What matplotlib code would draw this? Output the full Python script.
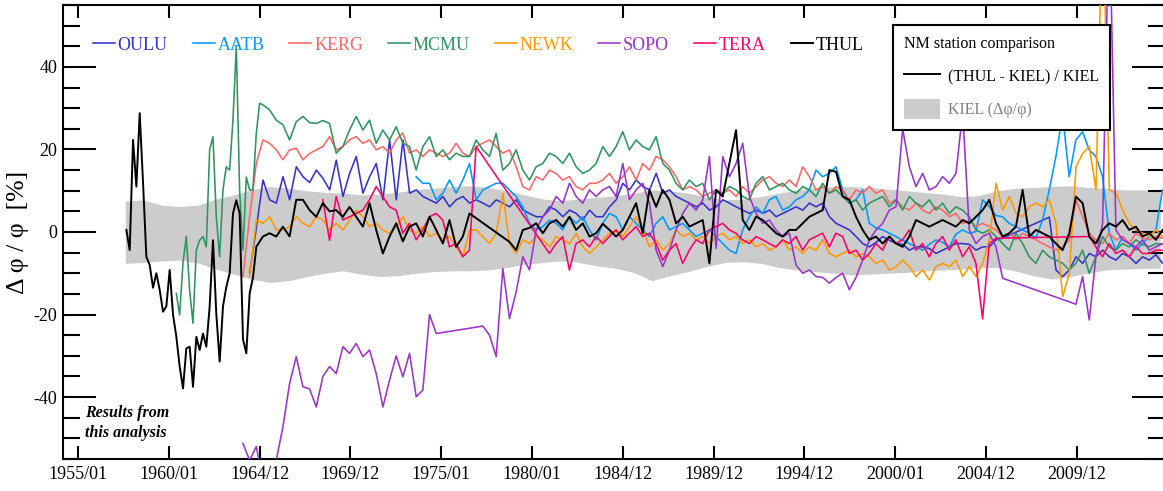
import numpy as np
import matplotlib
matplotlib.use("Agg")
import matplotlib.pyplot as plt
from matplotlib.lines import Line2D
from matplotlib.patches import Patch
from matplotlib.ticker import FixedLocator, MultipleLocator

plt.rcParams['font.family'] = ['Liberation Serif', 'DejaVu Serif']
plt.rcParams['axes.unicode_minus'] = False

nan = np.nan

# ---------------- axis data ----------------
xtick_years = [1955, 1960, 1965, 1970, 1975, 1980, 1985, 1990, 1995, 2000, 2005, 2010]
xtick_labels = ['1955/01', '1960/01', '1964/12', '1969/12', '1975/01', '1980/01',
                '1984/12', '1989/12', '1994/12', '2000/01', '2004/12', '2009/12']
ytick_values = [-40, -20, 0, 20, 40]

step_coarse = 0.367    # years between samples
step_fine = 0.1835

# ---------------- KIEL band (yearly) ----------------
kiel_start = 1957.6
kiel_step = 1.0
kiel_upper = [7.5, 7.8, 6.5, 6.2, 6.5, 8.0, 9.0, 10.3, 11.0, 10.6,
              10.0, 9.6, 9.4, 9.0, 9.2, 9.6, 10.3, 10.6, 11.0, 11.2,
              10.8, 10.0, 9.0, 8.0, 7.6, 8.0, 8.4, 8.8, 9.4, 10.2,
              10.0, 9.4, 8.5, 7.8, 8.0, 8.6, 9.4, 10.2, 10.8, 11.0,
              11.0, 10.8, 10.4, 10.0, 9.6, 9.2, 8.6, 8.8, 10.0, 10.6,
              10.8, 11.0, 11.2, 10.8, 10.6, 10.2, 10.2, 10.0]
kiel_lower = [-7.6, -7.4, -7.0, -6.8, -7.5, -9.0, -10.2, -11.5, -12.2, -11.8,
              -10.8, -10.0, -9.4, -10.2, -10.8, -10.6, -10.0, -9.6, -9.4, -9.4,
              -9.2, -8.6, -7.8, -7.4, -7.0, -7.4, -8.2, -8.8, -9.8, -11.8,
              -10.6, -9.6, -8.4, -7.4, -7.2, -7.6, -8.6, -9.2, -9.6, -10.0,
              -10.4, -10.2, -10.0, -9.8, -9.4, -9.2, -9.0, -8.6, -8.6, -9.4,
              -10.6, -11.4, -10.8, -10.0, -9.2, -9.0, -8.8, -8.8]

# ---------------- THUL ----------------
thul_fine_start = 1957.66
thul_fine = [0.5, -4.4, 22.3, 11.0, 28.8, 12.0, -6.0, -8.0, -13.5, -10.0,
             -14.0, -19.3, -18.0, -9.2, -20.0, -25.4, -32.6, -37.9, -28.2, -27.8,
             -37.5, -25.4, -28.6, -24.6, -27.8, -18.0, -2.0, -20.0, -31.4, -18.0,
             -13.3, -10.0, 4.5, 7.7, 4.5, -26.0, -29.4, -14.9, -11.0, -3.6]
thul_start = 1965.18
thul = [-1.1, -0.3, -1.1, 1.3, -1.1, 7.8, 7.8, 5.3, 3.7, 7.0,
        5.0, 5.3, 3.7, 6.1, 3.7, 1.3, 7.0, 0.5, -5.2, -1.1,
        2.1, -2.3, 1.3, 2.1, -1.1, 3.7, 0.5, -2.8, 2.9, -3.6,
        -1.1, 4.5, nan, nan, nan, nan, nan, -2.4, -4.4, 0.5,
        1.0, 2.1, -0.3, 2.1, 2.9, 1.3, 3.7, 0.5, 2.1, -1.1,
        -0.3, 2.0, 0.5, -1.1, 0.5, 3.7, 7.0, -0.3, 10.2, 6.1,
        10.2, 7.8, 2.1, 3.7, 1.3, 2.1, 2.9, -7.6, 10.2, 8.6,
        16.6, 24.7, 2.9, 0.5, 3.7, 2.9, 1.3, -0.3, -1.1, 0.5,
        0.5, 2.1, 3.7, 4.5, 5.3, 15.0, 14.6, 8.6, 7.8, 3.7,
        0.5, -1.9, -1.1, -2.8, -1.1, -2.8, -3.6, -1.1, 2.9, 2.1,
        1.3, 2.1, 2.9, 2.1, 1.3, 2.9, 2.1, 3.7, 5.3, 7.8,
        2.1, -1.1, -0.3, 1.3, 10.2, -1.1, 0.5, -0.3, -1.1, -2.8,
        -4.4, -0.3, 8.6, 7.0, -1.1, -2.8, 0.5, 2.1, 1.3, 2.9,
        0.5, 1.3, -1.1, -0.3, -1.9, 0.5]

# ---------------- MCMU ----------------
mcmu_fine_start = 1960.41
mcmu_fine = [-14.9, -20.1, -7.6, -1.1, -14.1, -22.1, -4.4, -2.0, -1.1, -3.6,
             19.9, 23.1, 3.7, -6.0, 10.2, 15.8, 15.0, 27.1, 45.0, 10.2,
             -4.4, 13.3, 10.2, 10.2, 23.9, 31.2]
mcmu_start = 1965.18
mcmu = [30.8, 29.6, 27.1, 26.0, 22.3, 26.7, 28.0, 26.5, 26.3, 27.0,
        26.3, 19.1, 20.7, 24.7, 28.0, 24.7, 27.1, 21.5, 24.7, 22.3,
        25.5, 21.5, 20.7, 15.0, 20.7, 23.1, 18.3, 19.9, 17.5, 19.1,
        18.3, 18.3, 22.3, 19.9, 18.3, 23.9, 15.0, 16.6, 19.9, 15.0,
        12.6, 15.8, 16.6, 19.1, 18.3, 16.6, 19.1, 15.8, 14.2, 15.0,
        16.6, 20.7, 18.3, 20.7, 24.3, 19.9, 22.3, 20.7, 19.9, 23.1,
        16.6, 15.0, 11.8, 10.2, 12.6, 11.0, 11.8, 7.8, 10.2, 9.4,
        11.0, 10.2, 8.6, 7.8, 11.8, 13.4, 10.2, 11.0, 11.8, 10.2,
        9.4, 11.0, 10.2, 8.6, 11.8, 9.4, 10.2, 8.6, 7.0, 7.8,
        5.3, 7.0, 7.8, 8.6, 6.1, 7.8, 5.3, 8.6, 7.0, 6.1,
        7.8, 5.3, 7.0, 4.5, 6.1, 5.3, 3.7, 0.5, -0.3, 0.5,
        -1.1, -2.8, -4.4, -0.3, -2.8, -6.0, -7.6, -4.4, -6.0, -6.8,
        -7.6, -9.2, -7.6, -4.4, -10.0, -6.0, -1.1, -3.6, -4.4, -2.8,
        -3.6, -1.9, -3.0, -3.6, -2.8, -3.0]

# ---------------- KERG ----------------
kerg_start = 1964.08
kerg = [-10.8, 3.7, 16.6,
        22.3, 21.5, 19.9, 17.5, 19.9, 20.3, 17.5, 19.0, 19.9, 20.7,
        23.1, 19.9, 20.7, 22.3, 23.1, 21.5, 22.3, 19.9, 20.7, 19.1,
        22.3, 24.0, 19.1, 19.9, 18.3, 19.9, 19.1, 18.3, 19.1, 21.5,
        19.1, 18.3, 20.7, 21.5, 22.3, 20.7, 19.1, 19.9, 15.8, 11.0,
        10.2, 13.4, 12.6, 15.0, 14.2, 12.6, 13.4, 11.0, 10.2, 11.8,
        11.8, 12.6, 14.2, 11.8, 13.4, 15.8, 12.6, 16.6, 15.0, 18.3,
        17.5, 15.8, 13.4, 10.2, 11.0, 10.2, 8.6, 9.4, 10.2, 9.4,
        10.2, 8.6, 11.0, 9.4, 11.0, 12.6, 13.4, 11.8, 11.0, 12.6,
        11.0, 15.8, 13.4, 10.2, 11.0, 9.4, 11.0, 10.2, 7.8, 10.2,
        9.4, 11.0, 9.4, 10.2, 7.0, 7.8, 6.1, 5.3, 7.0, 5.3,
        4.5, 6.1, 5.3, 3.7, 4.5, 2.1, 2.9, 1.3, 2.1, 1.3,
        0.5, -1.1, -0.3, -1.9, -0.3, -1.1, -1.9, -2.8, -3.6, -4.4,
        -3.6, -1.9, 7.8, 3.7, -0.3, -1.9, -2.8, -0.3, -1.9, -1.1,
        -2.8, -0.3, -1.5, -1.9, -1.1, -1.5]

# ---------------- OULU ----------------
oulu_start = 1964.45
oulu = [-10.0, 1.0,
        12.6, 7.8, 7.0, 13.4, 7.8, 15.8, 13.4, 12.0, 15.0, 13.0,
        10.2, 17.4, 8.6, 14.2, 18.3, 9.4, 13.4, 16.6, 7.8, 22.3,
        7.8, 22.3, 9.4, 10.2, 8.6, 7.8, 7.0, 8.6, 6.1, 7.8,
        8.6, 7.0, 7.8, 7.0, 6.1, 7.8, 7.0, 6.1, 7.8, 5.3,
        4.5, 3.7, 3.7, 6.1, 5.3, 3.7, 5.3, 4.5, 2.9, 5.3,
        3.7, 3.7, 6.1, 7.8, 11.8, 10.2, 12.6, 11.0, 10.2, 14.2,
        9.4, 10.2, 8.6, 7.8, 7.0, 6.1, 7.0, 5.3, 6.1, 7.8,
        7.0, 6.1, 5.3, 4.5, 5.3, 4.5, 5.3, 3.7, 4.5, 5.3,
        6.1, 5.3, 7.0, 6.1, 7.0, 3.7, 2.1, 1.3, 0.5, -1.1,
        -2.8, -3.6, -2.5, -1.1, -2.0, -2.8, -3.0, -4.4, -3.6, -3.6,
        -4.0, -5.2, -4.4, -3.6, -2.8, -2.8, -3.0, -4.4, -3.6, -3.6,
        -1.9, -1.5, nan, nan, nan, nan, nan, nan, 3.6, -9.2,
        -10.8, -9.2, -6.0, -7.6, -5.2, -6.0, -4.4, -6.0, -6.8, -5.2,
        -6.0, -7.6, -6.0, -6.8, -5.5, -7.6]

# ---------------- AATB ----------------
aatb_start = 1973.62
aatb = [13.4, 11.8, 11.8, 7.8, 9.4, 12.6, 9.4,
        12.6, 16.6, 7.8, 10.2, 11.0, 11.8, 11.8, 10.2, 8.6, 6.1,
        2.1, 0.5, 1.3, 2.9, 2.1, 0.5, 3.7, 2.1, 3.7, 0.5,
        -1.9, 2.1, 4.5, 3.7, 0.5, 3.7, 2.1, 0.5, -1.1, 2.1,
        3.7, 0.5, 1.3, 2.1, 0.5, -1.1, -0.3, 0.5, -1.1, -2.8,
        -4.4, -5.2, 0.5, 3.7, 6.1, 4.5, 7.8, 8.6, 5.3, 6.1,
        7.8, 8.6, 10.2, 15.0, 13.4, 14.2, 15.8, 10.2, 7.0, 7.8,
        10.2, 2.1, 1.0, 0.5, -0.3, -1.1, -2.0, -2.8, -3.6, -4.4,
        -3.0, -1.9, -2.5, -3.6, -0.5, 0.5, -0.3, 0.1, 7.8, 6.1,
        4.0, 3.7, 2.1, 1.3, 0.5, -0.3, -1.5, 2.9, 10.2, 18.3,
        28.4, 13.4, 22.3, 24.3, 19.9, 18.3, 13.4, -0.3, -4.4, -1.1,
        -2.8, -4.4, -2.8, -1.1, 0.5, 10.2]

# ---------------- NEWK ----------------
newk_start = 1964.45
newk = [-10.8, 2.9,
        2.1, 3.7, 0.5, 0.5, 1.3, 3.7, 2.1, 1.3, 3.7, 2.9,
        0.5, 2.1, 0.5, 2.9, 5.3, 3.7, 1.3, 2.1, 0.5, -0.3,
        1.3, 3.7, 0.5, -0.3, 1.3, -1.1, -0.3, -1.9, -1.1, -3.6,
        -6.0, 0.5, 0.5, -1.1, -2.8, -0.3, 9.4, -2.8, -5.2, -1.9,
        -2.8, -1.1, -1.9, -3.6, -1.1, -1.9, -2.8, -0.3, -3.6, -5.2,
        -3.6, -1.9, -0.3, 0.5, -1.1, 1.3, 3.7, 0.5, -3.6, -1.9,
        -4.4, -2.8, 0.5, -1.1, -0.3, -1.9, -1.1, -2.8, -1.1, -0.3,
        -1.9, -1.1, -2.8, -1.9, -3.6, -2.8, -4.4, -3.6, -1.9, -4.4,
        -3.6, -5.2, -3.6, -4.4, -1.9, -5.2, -6.0, -5.2, -4.4, -6.0,
        -5.2, -6.0, -7.6, -6.8, -9.2, -8.4, -6.8, -8.4, -10.8, -9.2,
        -11.6, -8.4, -7.6, -8.4, -6.8, -10.8, -8.4, -10.8, -7.6, -1.9,
        11.8, 5.3, 8.6, 4.5, 3.7, 6.1, 7.0, 6.1, 7.8, 2.1,
        -15.7, -10.0, 15.8, 19.0, 20.7, 10.2, 80.0, 10.2, 9.4, 5.3,
        2.1, 0.5, -0.3, -1.1, 0.5, -1.1]

# ---------------- SOPO ----------------
sopo_start = 1964.08
sopo = [-51.2, -55.3, -52.0,
        -60.0, -62.0, -55.3, -47.2, -36.7, -30.2, -37.5, -38.0, -42.4, -35.0,
        -32.6, -34.3, -27.8, -29.4, -27.0, -30.2, -28.6, -34.3, -42.4, -35.9,
        -30.0, -35.1, -29.4, -39.9, -38.3, -20.0, -24.6, nan, nan, nan,
        nan, nan, nan, -22.8, -25.0, -30.2, -8.8, -21.0, -14.5, -6.0,
        -9.2, 0.5, 3.7, 5.3, 8.6, 7.0, 11.8, 8.6, 7.0, 10.2,
        8.6, 10.2, 11.0, 8.6, 16.6, 7.8, 10.2, 11.8, 7.0, -4.4,
        -8.4, -4.4, 0.5, 4.5, 7.0, 5.3, 7.8, 18.3, -4.0, 18.3,
        13.4, 16.6, 21.5, 8.6, 4.5, 2.1, 2.9, 0.5, -1.1, -0.3,
        -8.0, -10.0, -9.2, -10.8, -11.0, -12.4, -11.0, -10.0, -14.0, -11.0,
        -6.8, -1.9, 0.5, 2.1, 5.3, 6.1, 25.0, 15.8, 11.0, 14.2,
        10.2, 11.0, 13.4, 11.8, 14.2, 29.0, 0.5, -2.8, -1.1, -0.3,
        -3.6, -11.2, nan, nan, nan, nan, nan, nan, nan, nan,
        nan, nan, -17.5, -10.8, -21.3, -6.0, 2.1, 80.0, 0.5, -1.9,
        -2.8, -3.6, -1.9, -4.4, -3.6, -2.8]

# ---------------- TERA ----------------
tera_start = 1968.48
tera = [7.8,
        -2.0, 8.6, 2.9, 3.7, 4.5, 5.3, 7.8, 11.0, 8.6, 6.1,
        5.3, -0.3, 2.1, -1.9, 0.5, 3.7, 4.5, 2.9, -3.6, -2.8,
        -6.0, -4.4, 20.7, nan, nan, nan, nan, nan, nan, nan,
        nan, nan, nan, -5.2, -2.8, -1.1, -9.2, -2.8, -1.9, -3.6,
        -1.1, -2.8, -1.1, 0.5, -1.9, -0.3, 1.3, -1.1, -0.3, -2.8,
        -6.8, -4.4, -2.8, -7.6, -4.4, -1.9, -2.8, 0.5, 1.3, 2.1,
        0.5, -0.3, -1.9, -2.8, -1.1, -1.9, -2.8, -3.6, -1.9, -2.8,
        -1.1, -4.4, -1.9, -1.1, -0.3, -3.6, -0.3, -1.1, -5.2, -4.4,
        -6.8, -5.2, -2.8, -4.4, -1.1, -2.8, -1.9, 0.5, -4.4, -2.8,
        -6.0, -2.8, -1.1, -4.4, -1.9, -6.0, -3.6, -7.6, -21.0, -2.8,
        -1.5, nan, nan, nan, nan, nan, nan, nan, nan, nan,
        nan, nan, nan, nan, -1.1, -3.6, -6.0, -2.8, -5.2, -4.4,
        -6.0, -3.6, -5.2, -5.2, -4.4, -4.4]

station_names = ['OULU', 'AATB', 'KERG', 'MCMU', 'NEWK', 'SOPO', 'TERA', 'THUL']
station_colors = ['#3333cc', '#0099ff', '#ff6666', '#2e9460', '#ff9900', '#9933cc', '#ff0066', '#000000']


def series_xy(segments):
    xs, ys = [], []
    for start, step, vals in segments:
        v = np.asarray(vals, dtype=float)
        xs.append(start + step * np.arange(len(v)))
        ys.append(v)
    x = np.concatenate(xs)
    y = np.concatenate(ys)
    keep = ~np.isnan(y)
    return x[keep], y[keep]


station_segments = [
    [(oulu_start, step_coarse, oulu)],
    [(aatb_start, step_coarse, aatb)],
    [(kerg_start, step_coarse, kerg)],
    [(mcmu_fine_start, step_fine, mcmu_fine), (mcmu_start, step_coarse, mcmu)],
    [(newk_start, step_coarse, newk)],
    [(sopo_start, step_coarse, sopo)],
    [(tera_start, step_coarse, tera)],
    [(thul_fine_start, step_fine, thul_fine), (thul_start, step_coarse, thul)],
]

W, H = 1163, 491
fig = plt.figure(figsize=(W / 100, H / 100), dpi=100)
ax = fig.add_axes([63 / W, 32 / H, 1102 / W, 454 / H])

# KIEL band
kx = kiel_start + kiel_step * np.arange(len(kiel_upper))
ax.fill_between(kx, kiel_lower, kiel_upper, color='#cccccc', lw=0, zorder=1)

lines = []
for name, color, segs in zip(station_names, station_colors, station_segments):
    x, y = series_xy(segs)
    lw = 1.4 if name == 'THUL' else 1.15
    z = 4 if name == 'THUL' else 3
    ln, = ax.plot(x, y, color=color, lw=lw, zorder=z, label=name)
    lines.append(ln)

ax.set_xlim(1954.17, 2014.86)
ax.set_ylim(-55, 55)

ax.xaxis.set_major_locator(FixedLocator(xtick_years))
ax.set_xticklabels(xtick_labels)
ax.yaxis.set_major_locator(FixedLocator(ytick_values))
ax.yaxis.set_minor_locator(MultipleLocator(5))
ax.set_yticklabels([str(v) for v in ytick_values])

ax.tick_params(axis='x', which='major', direction='in', length=9.5, width=1.5,
               top=True, bottom=True, labelsize=13, pad=5)
ax.tick_params(axis='y', which='major', direction='in', length=24, width=1.5,
               left=True, right=True, labelsize=13, pad=4)
ax.tick_params(axis='y', which='minor', direction='in', length=12, width=1.5,
               left=True, right=True)
for side in ['left', 'top', 'bottom']:
    ax.spines[side].set_linewidth(1.5)
ax.spines['right'].set_visible(False)

ax.set_ylabel('Δ φ / φ  [%]', fontsize=18.5)
ax.yaxis.set_label_coords(-0.031, 0.5)

leg1 = ax.legend(handles=lines, labels=station_names, ncol=8, loc='upper left',
                 bbox_to_anchor=(0.0272, 0.930), frameon=False, handlelength=1.22,
                 handletextpad=0.15, columnspacing=1.38, borderpad=0, borderaxespad=0,
                 fontsize=13, labelcolor='linecolor')
ax.add_artist(leg1)

h_line = Line2D([], [], color='black', lw=1.4)
h_patch = Patch(facecolor='#cccccc', edgecolor='none')
leg2 = ax.legend(handles=[h_line, h_patch], labels=['(THUL - KIEL) / KIEL', 'KIEL (Δφ/φ)'],
                 title='NM station comparison', loc='upper left', bbox_to_anchor=(0.7532, 0.956),
                 borderaxespad=0, fontsize=11.5, title_fontsize=11.5, fancybox=False,
                 framealpha=1, edgecolor='black', handlelength=2.25, handleheight=1.5,
                 labelspacing=0.85, handletextpad=0.5, alignment='left', borderpad=0.7)
leg2.get_frame().set_linewidth(1.5)
leg2.get_texts()[1].set_color('#808080')
leg2._legend_box.sep = 10

ax.text(0.02, 0.12, 'Results from\nthis analysis', transform=ax.transAxes,
        fontsize=11.5, fontweight='bold', fontstyle='italic', va='top', ha='left',
        linespacing=1.35)

fig.savefig('out.png', dpi=100)
